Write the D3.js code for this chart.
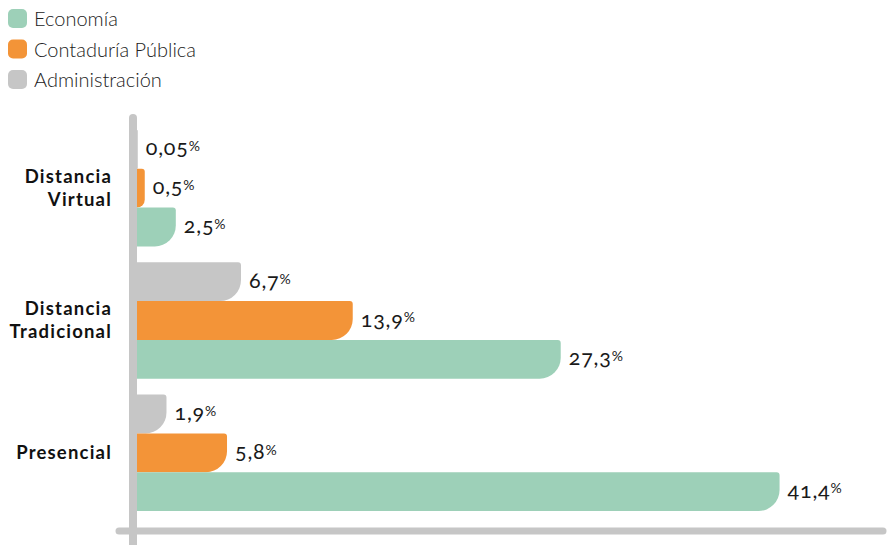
<!DOCTYPE html>
<html>
<head>
<meta charset="utf-8">
<script src="https://cdn.jsdelivr.net/npm/d3@7"></script>
<style>
  body { margin: 0; background: #fff; }
  svg { display: block; font-family: 'Lato', sans-serif; }
  .num { font-variant-numeric: oldstyle-nums; }
</style>
</head>
<body>
<svg id="chart"></svg>
<script>
'use strict';

// data
const categories = ['Distancia Virtual', 'Distancia Tradicional', 'Presencial'];
const categoryLines = [['Distancia', 'Virtual'], ['Distancia', 'Tradicional'], ['Presencial']];
const seriesNames = ['Administración', 'Contaduría Pública', 'Economía'];
const legendOrder = ['Economía', 'Contaduría Pública', 'Administración'];
const administracion = [0.05, 6.7, 1.9];
const contaduria = [0.5, 13.9, 5.8];
const economia = [2.5, 27.3, 41.4];
const valueLabels = {
  'Administración': ['0,05', '6,7', '1,9'],
  'Contaduría Pública': ['0,5', '13,9', '5,8'],
  'Economía': ['2,5', '27,3', '41,4']
};

const seriesValues = {
  'Administración': administracion,
  'Contaduría Pública': contaduria,
  'Economía': economia
};
const colors = {
  'Economía': '#9dd0b8',
  'Contaduría Pública': '#f39438',
  'Administración': '#c6c6c6'
};

const width = 887;
const height = 545;

const svg = d3.select('#chart')
    .attr('width', width)
    .attr('height', height);

const x = d3.scaleLinear()
    .domain([0, 48])
    .range([137, 882]);
const y = d3.scaleBand()
    .domain(categories)
    .range([130, 511])
    .paddingInner(0.12);
const ySub = d3.scaleBand()
    .domain(seriesNames)
    .range([0, y.bandwidth()]);

/**
 * bar with square left side, small top-right and big bottom-right corner
 */
function barPath(x0, x1, y0, y1) {
  const w = x1 - x0;
  const h = y1 - y0;
  const r1 = Math.min(3, w);
  const r2 = Math.min(21, w, h - r1);
  return 'M' + x0 + ',' + y0 +
      'H' + (x1 - r1) +
      'A' + r1 + ',' + r1 + ' 0 0 1 ' + x1 + ',' + (y0 + r1) +
      'V' + (y1 - r2) +
      'A' + r2 + ',' + r2 + ' 0 0 1 ' + (x1 - r2) + ',' + y1 +
      'H' + x0 + 'Z';
}

// axes
svg.append('line')
    .attr('x1', 119)
    .attr('y1', 531)
    .attr('x2', 883)
    .attr('y2', 531)
    .attr('stroke', '#c6c6c6')
    .attr('stroke-width', 7)
    .attr('stroke-linecap', 'round');
svg.append('line')
    .attr('x1', 133)
    .attr('y1', 118)
    .attr('x2', 133)
    .attr('y2', 560)
    .attr('stroke', '#c6c6c6')
    .attr('stroke-width', 8)
    .attr('stroke-linecap', 'round');

// bars
const groups = svg.selectAll('g.group')
    .data(categories)
    .enter().append('g')
    .attr('class', 'group')
    .attr('transform', (d) => 'translate(0,' + y(d) + ')');

groups.each(function(cat, ci) {
  const g = d3.select(this);
  seriesNames.forEach((s) => {
    const v = seriesValues[s][ci];
    const y0 = ySub(s);
    const y1 = y0 + ySub.bandwidth();
    g.append('path')
        .attr('d', barPath(x(0), x(v), y0, y1))
        .attr('fill', colors[s]);
    const t = g.append('text')
        .attr('class', 'num')
        .attr('x', x(v) + 8)
        .attr('y', y0 + ySub.bandwidth() / 2)
        .attr('dy', '0.28em')
        .attr('fill', '#1a1a1a')
        .style('font-size', '21.5px')
        .style('letter-spacing', '0.8px');
    t.append('tspan').text(valueLabels[s][ci]);
    t.append('tspan')
        .attr('dy', '-0.3em')
        .style('font-size', '14px')
        .style('letter-spacing', '0')
        .text('%');
  });
});

// category labels
svg.selectAll('text.cat')
    .data(categories)
    .enter().append('text')
    .attr('class', 'cat')
    .attr('text-anchor', 'end')
    .attr('fill', '#111')
    .style('font-size', '18.5px')
    .style('font-weight', 'bold')
    .style('letter-spacing', '1.2px')
    .each(function(d, i) {
      const lines = categoryLines[i];
      const cy = y(d) + y.bandwidth() / 2;
      const lh = 23;
      const top = cy - (lines.length - 1) * lh / 2;
      d3.select(this).selectAll('tspan')
          .data(lines)
          .enter().append('tspan')
          .attr('x', 112)
          .attr('y', (l, j) => top + j * lh)
          .attr('dy', '0.35em')
          .text((l) => l);
    });

// legend
const legend = svg.selectAll('g.legend')
    .data(legendOrder)
    .enter().append('g')
    .attr('class', 'legend')
    .attr('transform', (d, i) => 'translate(8,' + (9 + i * 30.5) + ')');
legend.append('rect')
    .attr('width', 19)
    .attr('height', 19)
    .attr('rx', 5)
    .attr('fill', (d) => colors[d]);
legend.append('text')
    .attr('x', 26)
    .attr('y', 10)
    .attr('dy', '0.35em')
    .attr('fill', '#222')
    .style('font-size', '20px')
    .style('font-weight', 300)
    .text((d) => d);
</script>
</body>
</html>
